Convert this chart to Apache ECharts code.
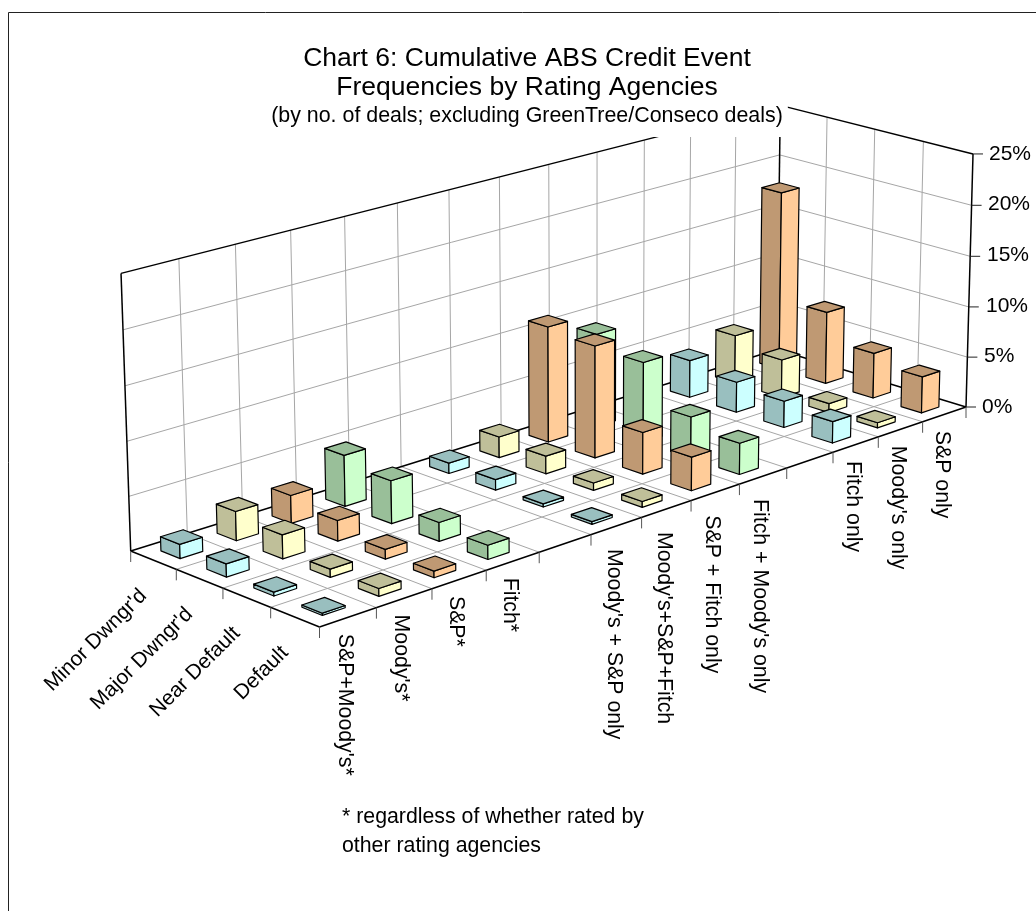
<!DOCTYPE html>
<html>
<head>
<meta charset="utf-8">
<style>html,body{margin:0;padding:0;background:#fff}#c{width:1036px;height:911px}</style>
<script src="https://cdn.jsdelivr.net/npm/echarts@6/dist/echarts.min.js"></script>
</head>
<body>
<div id="c"></div>
<script>
const columnLabels = ["S&P+Moody's*", "Moody's*", "S&P*", "Fitch*", "", "Moody's + S&P only", "Moody's+S&P+Fitch", "S&P + Fitch only", "Fitch + Moody's only", " ", "Fitch only", "Moody's only", "S&P only"];
const rowLabels = ["Minor Dwngr'd", "Major Dwngr'd", "Near Default", "Default"];
const minorDowngrade = [1.3, 2.7, 2.6, 4.8, null, 1.0, 2.0, 11.2, 9.1, null, 3.7, 4.8, 17.9];
const majorDowngrade = [1.2, 2.2, 1.9, 4.0, null, 1.0, 1.7, 10.8, 7.8, null, 3.0, 3.8, 7.2];
const nearDefault = [0.35, 0.75, 0.9, 1.75, null, 0.3, 0.7, 4.0, 4.0, null, 2.6, 0.9, 4.5];
const defaulted = [0.2, 0.7, 0.6, 1.3, null, 0.25, 0.55, 3.2, 3.0, null, 2.1, 0.5, 3.6];
const valueTicks = [0, 5, 10, 15, 20, 25];

const titleText = "Chart 6: Cumulative ABS Credit Event\nFrequencies by Rating Agencies";
const subtitleText = "(by no. of deals; excluding GreenTree/Conseco deals)";
const footnoteText = "* regardless of whether rated by\nother rating agencies";

const FONT = '"Liberation Sans", Arial, sans-serif';
const rows = [minorDowngrade, majorDowngrade, nearDefault, defaulted];
const palette = [
  { light: '#CCFFFF', dark: '#99BFBF' },
  { light: '#FFFFCC', dark: '#BFBF99' },
  { light: '#FFCC99', dark: '#BF9973' },
  { light: '#CCFFCC', dark: '#99BF99' }
];
const nCols = columnLabels.length, nRows = rowLabels.length, maxValue = 25;
const barFractionU = 0.40, barFractionV = 0.42;

// View calibration: where the floor and wall corners of the 3D box fall on the page
const floorFront = [319.5, 627], floorRight = [966, 407], floorBack = [777, 349.5], floorLeft = [130.7, 551];
const topLeft = [121.7, 274.3], topBack = [778.5, 104.5], topRight = [974.3, 154];

const view = (function () {
  const [x0, y0] = floorFront, [x1, y1] = floorRight, [x2, y2] = floorBack, [x3, y3] = floorLeft;
  const dx1 = x1 - x2, dx2 = x3 - x2, sx = x0 - x1 + x2 - x3;
  const dy1 = y1 - y2, dy2 = y3 - y2, sy = y0 - y1 + y2 - y3;
  const det = dx1 * dy2 - dx2 * dy1;
  const g = (sx * dy2 - dx2 * sy) / det, h = (dx1 * sy - sx * dy1) / det;
  const a = x1 - x0 + g * x1, b = x3 - x0 + h * x3, c = x0;
  const d = y1 - y0 + g * y1, e = y3 - y0 + h * y3, f = y0;
  const pts = [[0, 1, topLeft], [1, 1, topBack], [1, 0, topRight]];
  let Sx = 0, Sy = 0, Srx = 0, Sry = 0, S = 0, T = 0;
  pts.forEach(([u, v, [x, y]]) => {
    const W = g * u + h * v + 1, X = a * u + b * v + c, Y = d * u + e * v + f;
    const rx = x * W - X, ry = y * W - Y;
    Sx += x; Sy += y; Srx += rx; Sry += ry; S += x * x + y * y; T += -x * rx - y * ry;
  });
  const n = pts.length;
  const p3 = (T + (Sx * Srx + Sy * Sry) / n) / (S - (Sx * Sx + Sy * Sy) / n);
  const p1 = (Srx + Sx * p3) / n, p2 = (Sry + Sy * p3) / n;
  return { a, b, c, d, e, f, g, h, p1, p2, p3 };
})();

function project(u, v, w) {
  const m = view, W = m.g * u + m.h * v + m.p3 * w + 1;
  return [(m.a * u + m.b * v + m.p1 * w + m.c) / W, (m.d * u + m.e * v + m.p2 * w + m.f) / W];
}
function line(p, q, color, width) {
  return { type: 'line', silent: true, shape: { x1: p[0], y1: p[1], x2: q[0], y2: q[1] }, style: { stroke: color, lineWidth: width, fill: null } };
}

// bars, painted from far to near
const barData = [];
rows.forEach((vals, r) => vals.forEach((val, c) => { if (val != null) barData.push([c, r, val]); }));
barData.sort((p, q) => (q[0] - q[1]) - (p[0] - p[1]));

function renderBar(params, api) {
  const c = api.value(0), r = api.value(1), val = api.value(2);
  const w = val / maxValue;
  const u0 = (c + 0.5 - barFractionU / 2) / nCols, u1 = (c + 0.5 + barFractionU / 2) / nCols;
  const vc = 1 - (r + 0.5) / nRows, v0 = vc - barFractionV / 2 / nRows, v1 = vc + barFractionV / 2 / nRows;
  const col = palette[(c - Math.floor(c / 5)) % 4];
  const edge = { stroke: '#000', lineWidth: 1.2, lineJoin: 'round' };
  const poly = (pts, fill) => ({ type: 'polygon', shape: { points: pts }, style: Object.assign({ fill }, edge) });
  return {
    type: 'group', children: [
      poly([project(u0, v0, 0), project(u0, v1, 0), project(u0, v1, w), project(u0, v0, w)], col.dark),
      poly([project(u0, v0, 0), project(u1, v0, 0), project(u1, v0, w), project(u0, v0, w)], col.light),
      poly([project(u0, v0, w), project(u1, v0, w), project(u1, v1, w), project(u0, v1, w)], col.dark)
    ]
  };
}

function renderFrame() {
  const out = [], grey = '#a6a6a6', black = '#000';
  for (let i = 1; i < nCols; i++) {
    out.push(line(project(i / nCols, 0, 0), project(i / nCols, 1, 0), grey, 1));
    out.push(line(project(i / nCols, 1, 0), project(i / nCols, 1, 1), grey, 1));
  }
  for (let i = 1; i < nRows; i++) {
    out.push(line(project(0, i / nRows, 0), project(1, i / nRows, 0), grey, 1));
    out.push(line(project(1, i / nRows, 0), project(1, i / nRows, 1), grey, 1));
  }
  valueTicks.slice(1, -1).forEach(t => {
    const w = t / maxValue;
    out.push(line(project(0, 1, w), project(1, 1, w), grey, 1));
    out.push(line(project(1, 1, w), project(1, 0, w), grey, 1));
  });
  const F = project(0, 0, 0), R = project(1, 0, 0), B = project(1, 1, 0), L = project(0, 1, 0);
  const TL = project(0, 1, 1), TB = project(1, 1, 1), TR = project(1, 0, 1);
  [[F, R], [R, B], [B, L], [L, F], [L, TL], [B, TB], [R, TR], [TL, TB], [TB, TR]].forEach(s => out.push(line(s[0], s[1], black, 1.5)));
  // ticks
  for (let i = 0; i <= nCols; i++) {
    const p = project(i / nCols, 0, 0);
    out.push(line(p, [p[0], p[1] + 11], '#555', 1));
  }
  for (let i = 1; i <= nRows; i++) {
    const p = project(0, i / nRows, 0);
    out.push(line(p, [p[0], p[1] + 11], '#555', 1));
  }
  valueTicks.forEach(t => {
    const p = project(1, 0, t / maxValue);
    out.push(line(p, [p[0] + 10, p[1]], '#222', 1));
  });
  // category labels
  columnLabels.forEach((txt, c) => {
    if (!txt.trim()) return;
    const p = project((c + 0.5) / nCols, 0, 0);
    const drop = (c >= 5 && c <= 8) ? 23 : 16.5;
    out.push({ type: 'text', silent: true, x: p[0] - 3, y: p[1] + drop, rotation: -Math.PI / 2,
      style: { text: txt, font: '21.3px ' + FONT, fill: '#000', textAlign: 'left', textVerticalAlign: 'middle' } });
  });
  rowLabels.forEach((txt, r) => {
    const p = project(0, 1 - (r + 0.5) / nRows, 0);
    out.push({ type: 'text', silent: true, x: p[0] - 10, y: p[1] + 32.5, rotation: Math.PI / 4,
      style: { text: txt, font: '21px ' + FONT, fill: '#000', textAlign: 'right', textVerticalAlign: 'middle' } });
  });
  return { type: 'group', children: out };
}

const labelRich = {};
const labelShift = { 0: 0, 5: 2, 10: 4, 15: 5, 20: 6, 25: 7 };
valueTicks.forEach(t => { labelRich['v' + t] = { fontSize: 21, fontFamily: FONT, color: '#000', padding: [0, 0, 0, labelShift[t]] }; });

const chart = echarts.init(document.getElementById('c'));
chart.setOption({
  backgroundColor: '#fff',
  animation: false,
  title: {
    text: titleText, subtext: subtitleText,
    left: 522, top: 34, textAlign: 'center', itemGap: 4, z: 10,
    backgroundColor: '#fff', padding: [10, 5, 10, 5],
    textStyle: { fontFamily: FONT, fontSize: 26.5, fontWeight: 'normal', color: '#000', lineHeight: 29 },
    subtextStyle: { fontFamily: FONT, fontSize: 21.4, color: '#000' }
  },
  grid: { left: 100, right: 54, top: 154, height: 253, containLabel: false },
  xAxis: { type: 'category', data: columnLabels, show: false },
  yAxis: {
    type: 'value', position: 'right', min: 0, max: maxValue, interval: 5,
    axisLine: { show: false }, axisTick: { show: false }, splitLine: { show: false },
    axisLabel: { margin: 0, formatter: v => '{v' + v + '|' + v + '%}', rich: labelRich }
  },
  graphic: [
    { type: 'rect', silent: true, z: 0, shape: { x: 8.5, y: 12.5, width: 1200, height: 1200 }, style: { fill: null, stroke: '#222', lineWidth: 1 } },
    { type: 'text', silent: true, z: 10, x: 342, y: 803, style: { text: footnoteText, font: '21.3px ' + FONT, fill: '#000', lineHeight: 29 } }
  ],
  series: [
    { type: 'custom', z: 1, silent: true, data: [[0, 0, 0]], encode: { x: 0, y: 2 }, renderItem: renderFrame },
    { type: 'custom', z: 2, silent: true, data: barData, encode: { x: 0, y: 2 }, renderItem: renderBar }
  ]
});
</script>
</body>
</html>
